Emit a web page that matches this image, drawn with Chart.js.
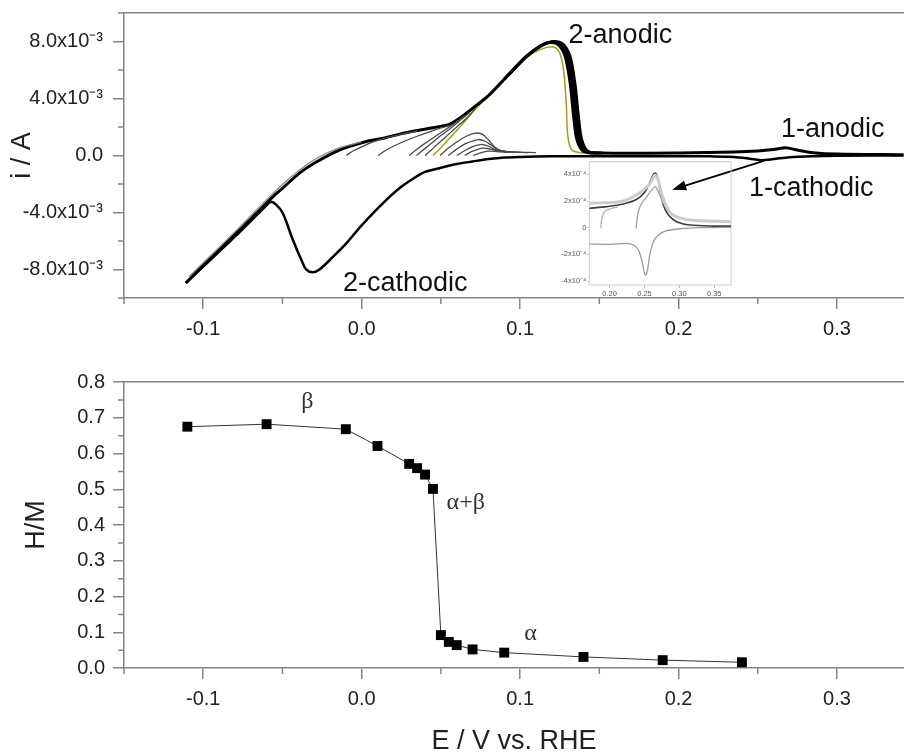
<!DOCTYPE html>
<html>
<head>
<meta charset="utf-8">
<script src="https://cdn.jsdelivr.net/npm/chart.js@4.4.1/dist/chart.umd.min.js"></script>
<style>
  html, body { margin: 0; padding: 0; background: #fff; overflow: hidden; }
  #page { position: relative; width: 904px; height: 753px; }
  #page canvas { position: absolute; }
</style>
</head>
<body>
<div id="page">
  <canvas id="cvChart" width="904" height="345" style="left:0;top:0"></canvas>
  <canvas id="hmChart" width="904" height="408" style="left:0;top:345px"></canvas>
  <canvas id="insetChart" width="190" height="145" style="left:548px;top:158px"></canvas>
</div>
<script>
// ================== Voltammogram data (E in V, current in mA) ==================
const cycleCathodic = [
    [0.342, 0.0], [0.30, -0.02], [0.285, -0.05], [0.27, -0.12], [0.26, -0.25], [0.2525, -0.33],
    [0.245, -0.22], [0.235, -0.1], [0.22, -0.06], [0.20, -0.05], [0.15, -0.05], [0.12, -0.06],
    [0.10, -0.1], [0.09, -0.14], [0.08, -0.25], [0.07, -0.42], [0.06, -0.6], [0.05, -0.86],
    [0.04, -1.15], [0.035, -1.45], [0.025, -2.2], [0.0135, -3.34], [0.0, -4.9], [-0.01, -6.2],
    [-0.018, -7.1], [-0.0266, -8.0], [-0.031, -8.2], [-0.035, -8.0], [-0.0372, -7.55],
    [-0.0435, -5.9], [-0.0498, -4.04], [-0.054, -3.45], [-0.0572, -3.25], [-0.06, -3.5],
    [-0.08, -5.7], [-0.10, -7.8], [-0.111, -8.95]
];
const cycleAnodic = [
    [-0.111, -8.95], [-0.10, -7.7], [-0.08, -5.55], [-0.065, -3.9], [-0.0561, -2.9], [-0.05, -2.3],
    [-0.0392, -1.24], [-0.03, -0.55], [-0.0182, 0.17], [-0.01, 0.55], [0.003, 0.98], [0.015, 1.25],
    [0.024, 1.5], [0.035, 1.75], [0.045, 1.95], [0.0557, 2.2], [0.063, 2.7], [0.0705, 3.35],
    [0.08, 4.2], [0.0916, 5.54], [0.104, 6.95], [0.1127, 7.65], [0.119, 7.93], [0.1243, 7.77],
    [0.1285, 6.95], [0.1316, 5.08], [0.1338, 2.74], [0.1359, 1.1], [0.1401, 0.28], [0.1485, 0.17],
    [0.20, 0.18], [0.235, 0.25], [0.25, 0.32], [0.26, 0.42], [0.2677, 0.55], [0.275, 0.38],
    [0.285, 0.2], [0.30, 0.1], [0.342, 0.05]
];
// repeated cycles that widen the big anodic peak
const cyclePeakB = [
    [0.09, 5.35], [0.104, 6.95], [0.113, 7.7], [0.1198, 7.96], [0.1255, 7.8], [0.13, 6.95],
    [0.1331, 5.05], [0.1353, 2.75], [0.1374, 1.1], [0.1415, 0.28], [0.15, 0.17]
];
const cyclePeakC = [
    [0.09, 5.35], [0.104, 6.95], [0.1135, 7.74], [0.1208, 8.0], [0.127, 7.82], [0.1315, 6.95],
    [0.1346, 5.05], [0.1368, 2.75], [0.1389, 1.1], [0.143, 0.28], [0.152, 0.17]
];
const sweepOlive = [
    [0.045, 0.0], [0.05, 0.55], [0.055, 1.15], [0.06, 1.75], [0.066, 2.5], [0.072, 3.3],
    [0.08, 4.15], [0.0916, 5.45], [0.104, 6.85], [0.113, 7.45], [0.1212, 7.62], [0.1245, 7.3],
    [0.1265, 6.6], [0.128, 5.4], [0.1292, 3.5], [0.13, 1.5], [0.1325, 0.4], [0.14, 0.15]
];
const sweepTrace = [
    [-0.109, -8.5], [-0.09, -6.45], [-0.075, -4.8], [-0.06, -3.1], [-0.045, -1.55],
    [-0.03, -0.3], [-0.015, 0.5], [0.0, 0.95]
];
// anodic sweeps started after shorter cathodic excursions
const sweepsBeta = [
    [[-0.0097, 0.0], [-0.005, 0.35], [0.0, 0.6], [0.006, 0.9], [0.014, 1.2], [0.024, 1.47], [0.035, 1.72]],
    [[0.0103, 0.0], [0.015, 0.35], [0.02, 0.65], [0.027, 1.0], [0.035, 1.35], [0.045, 1.75], [0.055, 2.1]],
    [[0.030, 0.0], [0.035, 0.45], [0.04, 0.85], [0.046, 1.3], [0.052, 1.75], [0.058, 2.2], [0.065, 2.8]],
    [[0.0346, 0.0], [0.04, 0.5], [0.045, 0.95], [0.05, 1.4], [0.056, 1.9], [0.062, 2.45], [0.068, 3.0]],
    [[0.040, 0.0], [0.045, 0.5], [0.05, 1.0], [0.055, 1.5], [0.06, 2.0], [0.066, 2.6], [0.072, 3.3]]
];
const sweepsAlpha = [
    [[0.0494, 0.0], [0.054, 0.45], [0.06, 0.95], [0.066, 1.35], [0.0715, 1.57], [0.076, 1.5], [0.08, 1.1], [0.084, 0.6], [0.088, 0.35], [0.095, 0.25], [0.11, 0.2]],
    [[0.0546, 0.0], [0.06, 0.45], [0.066, 0.85], [0.0737, 1.12], [0.078, 1.0], [0.082, 0.7], [0.086, 0.4], [0.092, 0.27], [0.105, 0.2]],
    [[0.060, 0.0], [0.066, 0.4], [0.071, 0.65], [0.0758, 0.78], [0.08, 0.65], [0.084, 0.42], [0.09, 0.28], [0.10, 0.22]],
    [[0.065, 0.0], [0.07, 0.3], [0.0765, 0.52], [0.081, 0.45], [0.086, 0.32], [0.093, 0.25]],
    [[0.0705, 0.0], [0.075, 0.18], [0.08, 0.3], [0.085, 0.28], [0.092, 0.22]]
];

// ================== Inset data (E in V, current in 1e-4 A) ==================
const insetAnodic = [
    [0.171, 1.45], [0.1962, 1.58], [0.22, 1.78], [0.239, 2.13], [0.251, 2.7], [0.2581, 3.45],
    [0.2629, 4.0], [0.2657, 4.1], [0.2686, 3.8], [0.2724, 2.8], [0.2771, 1.7], [0.2843, 0.95],
    [0.2962, 0.45], [0.3152, 0.2], [0.3486, 0.12], [0.374, 0.12]
];
const insetBand = [
    [0.171, 1.83], [0.196, 1.88], [0.22, 2.0], [0.243, 2.6], [0.258, 3.3], [0.265, 3.95],
    [0.2695, 3.6], [0.2743, 2.6], [0.2814, 1.6], [0.291, 0.95], [0.315, 0.58], [0.374, 0.45]
];
const insetPartialA = [[0.1876, -0.05], [0.1886, 0.58], [0.1914, 1.08], [0.196, 1.33], [0.203, 1.45], [0.212, 1.55]];
const insetPartialB = [
    [0.238, -0.05], [0.2395, 0.7], [0.2419, 1.33], [0.2462, 1.83], [0.2533, 2.33], [0.2605, 2.83],
    [0.2652, 3.08], [0.27, 2.7], [0.2771, 1.83], [0.2867, 1.08], [0.30, 0.7]
];
const insetCathodic = [
    [0.374, 0.03], [0.3295, 0.0], [0.301, -0.08], [0.2819, -0.23], [0.27, -0.55], [0.2629, -1.05],
    [0.2581, -1.93], [0.2543, -3.18], [0.2519, -3.55], [0.25, -3.43], [0.2462, -2.43],
    [0.2414, -1.68], [0.2343, -1.3], [0.2248, -1.18], [0.2, -1.25], [0.171, -1.23]
];

// ================== H/M vs potential ==================
const hmPotential = [-0.11, -0.06, -0.01, 0.01, 0.03, 0.035, 0.04, 0.045, 0.05, 0.055, 0.06, 0.07, 0.09, 0.14, 0.19, 0.24];
const hmRatio = [0.675, 0.682, 0.668, 0.621, 0.571, 0.559, 0.541, 0.501, 0.092, 0.073, 0.064, 0.052, 0.043, 0.031, 0.022, 0.016];

// ================== Ticks ==================
const xMajorTicks = [-0.1, 0.0, 0.1, 0.2, 0.3];
const xMinorTicks = [-0.15, -0.05, 0.05, 0.15, 0.25];
const cvMajorTicks = [-8, -4, 0, 4, 8];
const cvMinorTicks = [-10, -6, -2, 2, 6, 10];
const hmMajorTicks = [0, 0.1, 0.2, 0.3, 0.4, 0.5, 0.6, 0.7, 0.8];
const hmMinorTicks = [0.05, 0.15, 0.25, 0.35, 0.45, 0.55, 0.65, 0.75];
const insetXTicks = [0.20, 0.25, 0.30, 0.35];
const insetYTicks = [-4, -2, 0, 2, 4];

// ================== Helpers ==================
const axisColor = '#858585';
const textColor = '#222';
const sans = '"Liberation Sans", Arial, sans-serif';
const serif = '"Liberation Serif", "Times New Roman", serif';
const E_MIN = -0.15, E_MAX = 0.3423;

function fixedTicks(values) {
    return scale => { scale.ticks = values.map(v => ({ value: v })); };
}

// fixed axis width, and no extra room reserved for the end labels
function fixedWidth(w) {
    return scale => {
        scale.width = w;
        scale.paddingTop = 0;
        scale.paddingBottom = 0;
    };
}

function lineSet(points, color, width) {
    return {
        data: points.map(p => ({ x: p[0], y: p[1] })),
        showLine: true,
        borderColor: color,
        borderWidth: width,
        pointRadius: 0,
        tension: 0.3,
        fill: false
    };
}

// short ticks between the labelled ones
const minorTicks = {
    id: 'minorTicks',
    afterDraw(chart, args, opts) {
        const { ctx, chartArea: a, scales } = chart;
        ctx.save();
        ctx.strokeStyle = opts.color;
        ctx.lineWidth = opts.width;
        ctx.beginPath();
        (opts.x || []).forEach(v => {
            const px = scales.x.getPixelForValue(v);
            ctx.moveTo(px, a.bottom);
            ctx.lineTo(px, a.bottom + opts.length);
        });
        (opts.y || []).forEach(v => {
            const py = scales.y.getPixelForValue(v);
            ctx.moveTo(a.left, py);
            ctx.lineTo(a.left - opts.length, py);
        });
        ctx.stroke();
        ctx.restore();
    }
};

// text placed at data coordinates
const textLabels = {
    id: 'textLabels',
    afterDatasetsDraw(chart, args, opts) {
        const { ctx, scales: { x, y } } = chart;
        ctx.save();
        (opts.items || []).forEach(t => {
            ctx.font = t.font;
            ctx.fillStyle = t.color;
            ctx.textAlign = t.align || 'left';
            ctx.textBaseline = t.baseline || 'alphabetic';
            ctx.fillText(t.text, x.getPixelForValue(t.x), y.getPixelForValue(t.y));
        });
        ctx.restore();
    }
};

const arrow = {
    id: 'arrow',
    afterDatasetsDraw(chart, args, opts) {
        if (!opts.from) return;
        const { ctx, scales: { x, y } } = chart;
        const x0 = x.getPixelForValue(opts.from[0]), y0 = y.getPixelForValue(opts.from[1]);
        const x1 = x.getPixelForValue(opts.to[0]), y1 = y.getPixelForValue(opts.to[1]);
        const ang = Math.atan2(y1 - y0, x1 - x0);
        const len = 14, half = 5;
        ctx.save();
        ctx.strokeStyle = '#000';
        ctx.fillStyle = '#000';
        ctx.lineWidth = 1.8;
        ctx.beginPath();
        ctx.moveTo(x0, y0);
        ctx.lineTo(x1 - Math.cos(ang) * len * 0.8, y1 - Math.sin(ang) * len * 0.8);
        ctx.stroke();
        ctx.beginPath();
        ctx.moveTo(x1, y1);
        ctx.lineTo(x1 - Math.cos(ang) * len - Math.sin(ang) * half, y1 - Math.sin(ang) * len + Math.cos(ang) * half);
        ctx.lineTo(x1 - Math.cos(ang) * len + Math.sin(ang) * half, y1 - Math.sin(ang) * len - Math.cos(ang) * half);
        ctx.closePath();
        ctx.fill();
        ctx.restore();
    }
};

const frame = {
    id: 'frame',
    beforeDatasetsDraw(chart, args, opts) {
        const { ctx, chartArea: a } = chart;
        ctx.save();
        ctx.strokeStyle = opts.color;
        ctx.lineWidth = opts.width;
        ctx.strokeRect(a.left, a.top, a.right - a.left, a.bottom - a.top);
        ctx.restore();
    }
};

function mainAxis(extra) {
    return Object.assign({
        type: 'linear',
        grid: { drawOnChartArea: false, color: axisColor, lineWidth: 1.5, tickLength: 11 },
        border: { color: axisColor, width: 1.5 },
        ticks: { color: textColor, font: { family: sans, size: 20 }, maxRotation: 0 }
    }, extra);
}

function topBorderAxis() {
    return {
        type: 'linear', position: 'top', min: E_MIN, max: E_MAX,
        afterFit: s => { s.height = 0; },
        grid: { display: false },
        ticks: { display: false },
        border: { color: axisColor, width: 1.5 }
    };
}

// ================== Voltammogram ==================
const cvDatasets = [];
cvDatasets.push(lineSet(sweepTrace, '#8a8a8a', 1.3));
sweepsBeta.forEach(s => cvDatasets.push(lineSet(s, '#4a4a4a', 1.3)));
sweepsAlpha.forEach(s => cvDatasets.push(lineSet(s, '#4a4a4a', 1.3)));
cvDatasets.push(lineSet(cycleCathodic, '#000', 2.5));
cvDatasets.push(lineSet(cycleAnodic, '#000', 3));
cvDatasets.push(lineSet(cyclePeakB, '#000', 3));
cvDatasets.push(lineSet(cyclePeakC, '#000', 3));
cvDatasets.push(lineSet(sweepOlive, '#a19e1c', 1.5));

const labelFont = '27px ' + sans;
new Chart(document.getElementById('cvChart'), {
    type: 'scatter',
    data: { datasets: cvDatasets },
    plugins: [minorTicks, textLabels, arrow],
    options: {
        responsive: false,
        animation: false,
        events: [],
        layout: { autoPadding: false, padding: { top: 13, left: 0, right: 0, bottom: 0 } },
        plugins: {
            legend: { display: false },
            tooltip: { enabled: false },
            minorTicks: { x: xMinorTicks, y: cvMinorTicks, length: 6, color: axisColor, width: 1.5 },
            textLabels: {
                items: [
                    { text: '2-anodic', x: 0.1306, y: 7.89, font: labelFont, color: '#111' },
                    { text: '1-anodic', x: 0.2646, y: 1.33, font: labelFont, color: '#111' },
                    { text: '1-cathodic', x: 0.2445, y: -2.83, font: labelFont, color: '#111' },
                    { text: '2-cathodic', x: -0.0118, y: -9.54, font: labelFont, color: '#111' }
                ]
            },
            arrow: { from: [0.2538, -0.37], to: [0.196, -2.41] }
        },
        scales: {
            x: mainAxis({
                min: E_MIN, max: E_MAX,
                afterBuildTicks: fixedTicks(xMajorTicks),
                afterFit: s => { s.height = 47; },
                ticks: { color: textColor, font: { family: sans, size: 20 }, maxRotation: 0, padding: 8,
                         callback: v => v.toFixed(1) }
            }),
            xTop: topBorderAxis(),
            y: mainAxis({
                min: -10, max: 10,
                afterBuildTicks: fixedTicks(cvMajorTicks),
                afterFit: fixedWidth(124),
                ticks: { color: textColor, font: { family: sans, size: 20 }, padding: 10,
                         callback: v => v === 0 ? '0.0' : v.toFixed(1) + 'x10\u207B\u00B3' },
                title: { display: true, text: 'i / A', color: textColor,
                         font: { family: sans, size: 27 }, padding: { top: 6, bottom: 0 } }
            })
        }
    }
});

// ================== Inset ==================
const tinyFont = { family: sans, size: 7.5 };
new Chart(document.getElementById('insetChart'), {
    type: 'scatter',
    data: {
        datasets: [
            lineSet(insetBand, '#cbcbcb', 3),
            lineSet(insetBand, '#a9a9a9', 1),
            lineSet(insetPartialA, '#b5b5b5', 1.3),
            lineSet(insetPartialB, '#a0a0a0', 1.3),
            lineSet(insetCathodic, '#9a9a9a', 1.3),
            lineSet(insetAnodic, '#3d3f30', 1.6)
        ]
    },
    plugins: [frame],
    options: {
        responsive: false,
        animation: false,
        events: [],
        layout: { autoPadding: false, padding: { top: 3.7, right: 7, left: 0, bottom: 0 } },
        plugins: {
            legend: { display: false },
            tooltip: { enabled: false },
            frame: { color: '#cccccc', width: 1 }
        },
        scales: {
            x: {
                type: 'linear', min: 0.171, max: 0.374,
                afterBuildTicks: fixedTicks(insetXTicks),
                afterFit: s => { s.height = 18; },
                grid: { drawOnChartArea: false, color: '#bbb', tickLength: 3 },
                border: { display: false },
                ticks: { color: '#555', font: tinyFont, padding: 1, maxRotation: 0, callback: v => v.toFixed(2) }
            },
            y: {
                type: 'linear', min: -4.3, max: 4.95,
                afterBuildTicks: fixedTicks(insetYTicks),
                afterFit: fixedWidth(41.3),
                grid: { drawOnChartArea: false, color: '#bbb', tickLength: 2 },
                border: { display: false },
                ticks: { color: '#555', font: tinyFont, padding: 1,
                         callback: v => v === 0 ? '0' : v + 'x10\u207B\u2074' }
            }
        }
    }
});

// ================== H/M chart ==================
const greekFont = '24px ' + serif;
new Chart(document.getElementById('hmChart'), {
    type: 'scatter',
    data: {
        datasets: [{
            data: hmPotential.map((e, k) => ({ x: e, y: hmRatio[k] })),
            showLine: true,
            borderColor: '#333',
            borderWidth: 1,
            pointStyle: 'rect',
            pointRadius: 7,
            pointBackgroundColor: '#000',
            pointBorderColor: '#000',
            pointBorderWidth: 0,
            tension: 0
        }]
    },
    plugins: [minorTicks, textLabels],
    options: {
        responsive: false,
        animation: false,
        events: [],
        layout: { autoPadding: false, padding: { top: 37, left: 0, right: 0, bottom: 0 } },
        plugins: {
            legend: { display: false },
            tooltip: { enabled: false },
            minorTicks: { x: xMinorTicks, y: hmMinorTicks, length: 6, color: axisColor, width: 1.5 },
            textLabels: {
                items: [
                    { text: '\u03B2', x: -0.0342, y: 0.745, font: greekFont, color: '#333', align: 'center', baseline: 'middle' },
                    { text: '\u03B1+\u03B2', x: 0.0657, y: 0.462, font: greekFont, color: '#333', align: 'center', baseline: 'middle' },
                    { text: '\u03B1', x: 0.1066, y: 0.095, font: greekFont, color: '#333', align: 'center', baseline: 'middle' }
                ]
            }
        },
        scales: {
            x: mainAxis({
                min: E_MIN, max: E_MAX,
                afterBuildTicks: fixedTicks(xMajorTicks),
                afterFit: s => { s.height = 85; },
                ticks: { color: textColor, font: { family: sans, size: 20 }, maxRotation: 0, padding: 8,
                         callback: v => v.toFixed(1) },
                title: { display: true, text: 'E / V vs. RHE', color: textColor,
                         font: { family: sans, size: 27, lineHeight: 0.84 }, padding: 0 }
            }),
            xTop: topBorderAxis(),
            y: mainAxis({
                min: 0, max: 0.8,
                afterBuildTicks: fixedTicks(hmMajorTicks),
                afterFit: fixedWidth(124),
                ticks: { color: textColor, font: { family: sans, size: 20 }, padding: 8,
                         callback: v => v.toFixed(1) },
                title: { display: true, text: 'H/M', color: textColor,
                         font: { family: sans, size: 27 }, padding: { top: 20, bottom: 0 } }
            })
        }
    }
});
</script>
</body>
</html>
